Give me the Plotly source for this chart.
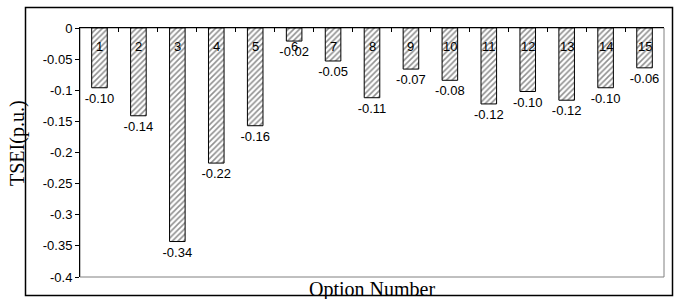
import plotly.graph_objects as go

options = [str(i) for i in range(1, 16)]
tsei = [-0.096, -0.141, -0.343, -0.217, -0.157, -0.021, -0.053, -0.112,
        -0.066, -0.084, -0.122, -0.102, -0.116, -0.096, -0.064]
ytick_vals = [0, -0.05, -0.1, -0.15, -0.2, -0.25, -0.3, -0.35, -0.4]
ytick_text = ["0", "-0.05", "-0.1", "-0.15", "-0.2", "-0.25", "-0.3", "-0.35", "-0.4"]
x_title = "Option Number"
y_title = "TSEI(p.u.)"

W, H = 674, 299
L, R, T, B = 80, 10, 28, 22
pw, ph = W - L - R, H - T - B

def px_x(x):
    return (x - L) / pw

def px_y(y):
    return (H - B - y) / ph

fig = go.Figure()
fig.add_trace(go.Bar(
    x=options, y=tsei, width=0.4,
    marker=dict(color="white", line=dict(color="black", width=1),
                pattern=dict(shape="/", fgcolor="#222222", bgcolor="white",
                             size=4, solidity=0.4)),
    text=[f"{v:.2f}" for v in tsei], textposition="outside", constraintext="none",
    textfont=dict(family="Liberation Sans, Arial", size=13, color="black"),
    cliponaxis=False,
))

annotations = []
for i, c in enumerate(options):
    annotations.append(dict(x=i, y=0, xref="x", yref="y", text=c, showarrow=False,
                            yanchor="top", yshift=-9,
                            font=dict(family="Liberation Sans, Arial", size=13, color="black")))
annotations.append(dict(x=0.5, y=px_y(276), xref="paper", yref="paper", text=x_title,
                        showarrow=False, yanchor="top", xanchor="center",
                        font=dict(family="Liberation Serif, Times New Roman", size=20, color="black")))
annotations.append(dict(x=px_x(17), y=px_y(143), xref="paper", yref="paper", text=y_title,
                        showarrow=False, textangle=-90, xanchor="center", yanchor="middle",
                        font=dict(family="Liberation Serif, Times New Roman", size=20, color="black")))

shapes = [
    dict(type="rect", xref="paper", yref="paper", x0=0, x1=1, y0=0, y1=1,
         line=dict(color="#808080", width=1), layer="below"),
    dict(type="rect", xref="paper", yref="paper", x0=px_x(25.5), x1=px_x(672.5),
         y0=px_y(295.5), y1=px_y(7.5), line=dict(color="black", width=1.5), layer="below"),
]

fig.update_layout(
    width=W, height=H, margin=dict(l=L, r=R, t=T, b=B),
    plot_bgcolor="white", paper_bgcolor="white", showlegend=False,
    font=dict(family="Liberation Sans, Arial", size=13, color="black"),
    xaxis=dict(type="category", side="top", showline=True, linecolor="black", linewidth=1,
               ticks="inside", tickson="boundaries", ticklen=4, tickcolor="black",
               showticklabels=False, showgrid=False, zeroline=False),
    yaxis=dict(range=[-0.4, 0], tickvals=ytick_vals, ticktext=ytick_text,
               showline=True, linecolor="black", linewidth=1, ticks="outside", ticklen=4,
               tickcolor="black", showgrid=False, zeroline=False,
               tickfont=dict(family="Liberation Sans, Arial", size=13, color="black")),
    annotations=annotations, shapes=shapes,
)

fig.write_html("out.html", config={"displayModeBar": False},
               post_script="document.body.style.margin='0';")
